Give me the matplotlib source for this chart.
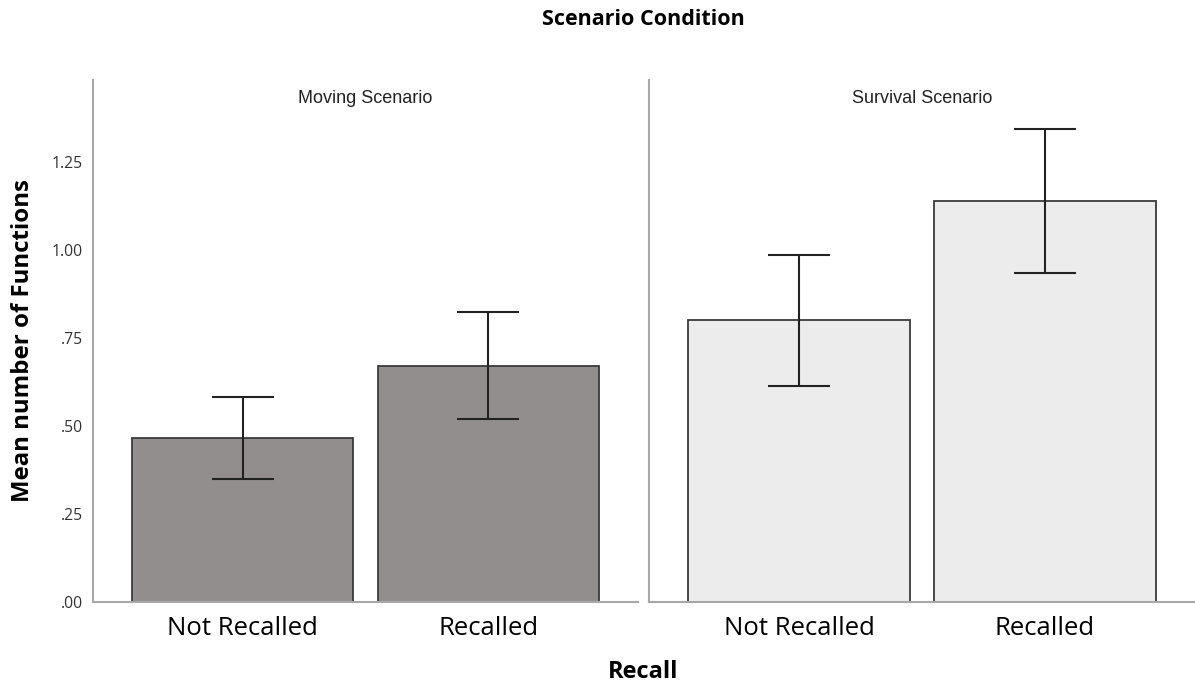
import matplotlib.pyplot as plt

plt.rcParams['font.family'] = ['Open Sans', 'DejaVu Sans']

recall_levels = ['Not Recalled', 'Recalled']
scenarios = ['Moving Scenario', 'Survival Scenario']
means = {
    'Moving Scenario': [0.465, 0.669],
    'Survival Scenario': [0.799, 1.138],
}
err_low = {
    'Moving Scenario': [0.350, 0.518],
    'Survival Scenario': [0.614, 0.935],
}
err_high = {
    'Moving Scenario': [0.581, 0.823],
    'Survival Scenario': [0.985, 1.343],
}
bar_colors = {'Moving Scenario': '#928e8d', 'Survival Scenario': '#ececec'}
y_ticks = [0, 0.25, 0.5, 0.75, 1.0, 1.25]
y_tick_labels = ['.00', '.25', '.50', '.75', '1.00', '1.25']

fig = plt.figure(figsize=(11.95, 6.84), dpi=100)
axes = [fig.add_axes([0.0778, 0.1199, 0.4562, 0.7635]),
        fig.add_axes([0.5431, 0.1199, 0.4569, 0.7635])]

for ax, sc in zip(axes, scenarios):
    x = range(len(recall_levels))
    m = means[sc]
    lo = [a - b for a, b in zip(m, err_low[sc])]
    hi = [b - a for a, b in zip(m, err_high[sc])]
    ax.bar(x, m, width=0.9, color=bar_colors[sc], edgecolor='#3a3a3a',
           linewidth=1.3, zorder=2)
    ax.errorbar(x, m, yerr=[lo, hi], fmt='none', ecolor='#222222',
                elinewidth=1.5, capsize=22, capthick=1.5, zorder=3)
    ax.set_xlim(-0.61, 1.61)
    ax.set_ylim(0, 1.482)
    ax.set_xticks(list(x))
    ax.set_xticklabels(recall_levels, fontsize=18.5)
    ax.set_yticks(y_ticks)
    ax.tick_params(axis='x', length=0, pad=10)
    ax.tick_params(axis='y', length=0, pad=7)
    for s in ['top', 'right']:
        ax.spines[s].set_visible(False)
    for s in ['left', 'bottom']:
        ax.spines[s].set_color('#a8a8a8')
        ax.spines[s].set_linewidth(1.5)
    ax.text(0.5, 0.965, sc, transform=ax.transAxes, ha='center', va='center',
            fontsize=13, color='#222222', family=['Liberation Sans'])

axes[0].set_yticklabels(y_tick_labels, fontsize=11.3, color='#333333')
axes[1].set_yticklabels([])
axes[0].set_ylabel('Mean number of Functions', fontsize=17.3, fontweight='bold',
                   labelpad=12)

fig.text(0.538, 0.972, 'Scenario Condition', ha='center', va='center',
         fontsize=15.5, fontweight='bold')
fig.text(0.538, 0.018, 'Recall', ha='center', va='center',
         fontsize=17, fontweight='bold')

fig.savefig('out.png', dpi=100)
